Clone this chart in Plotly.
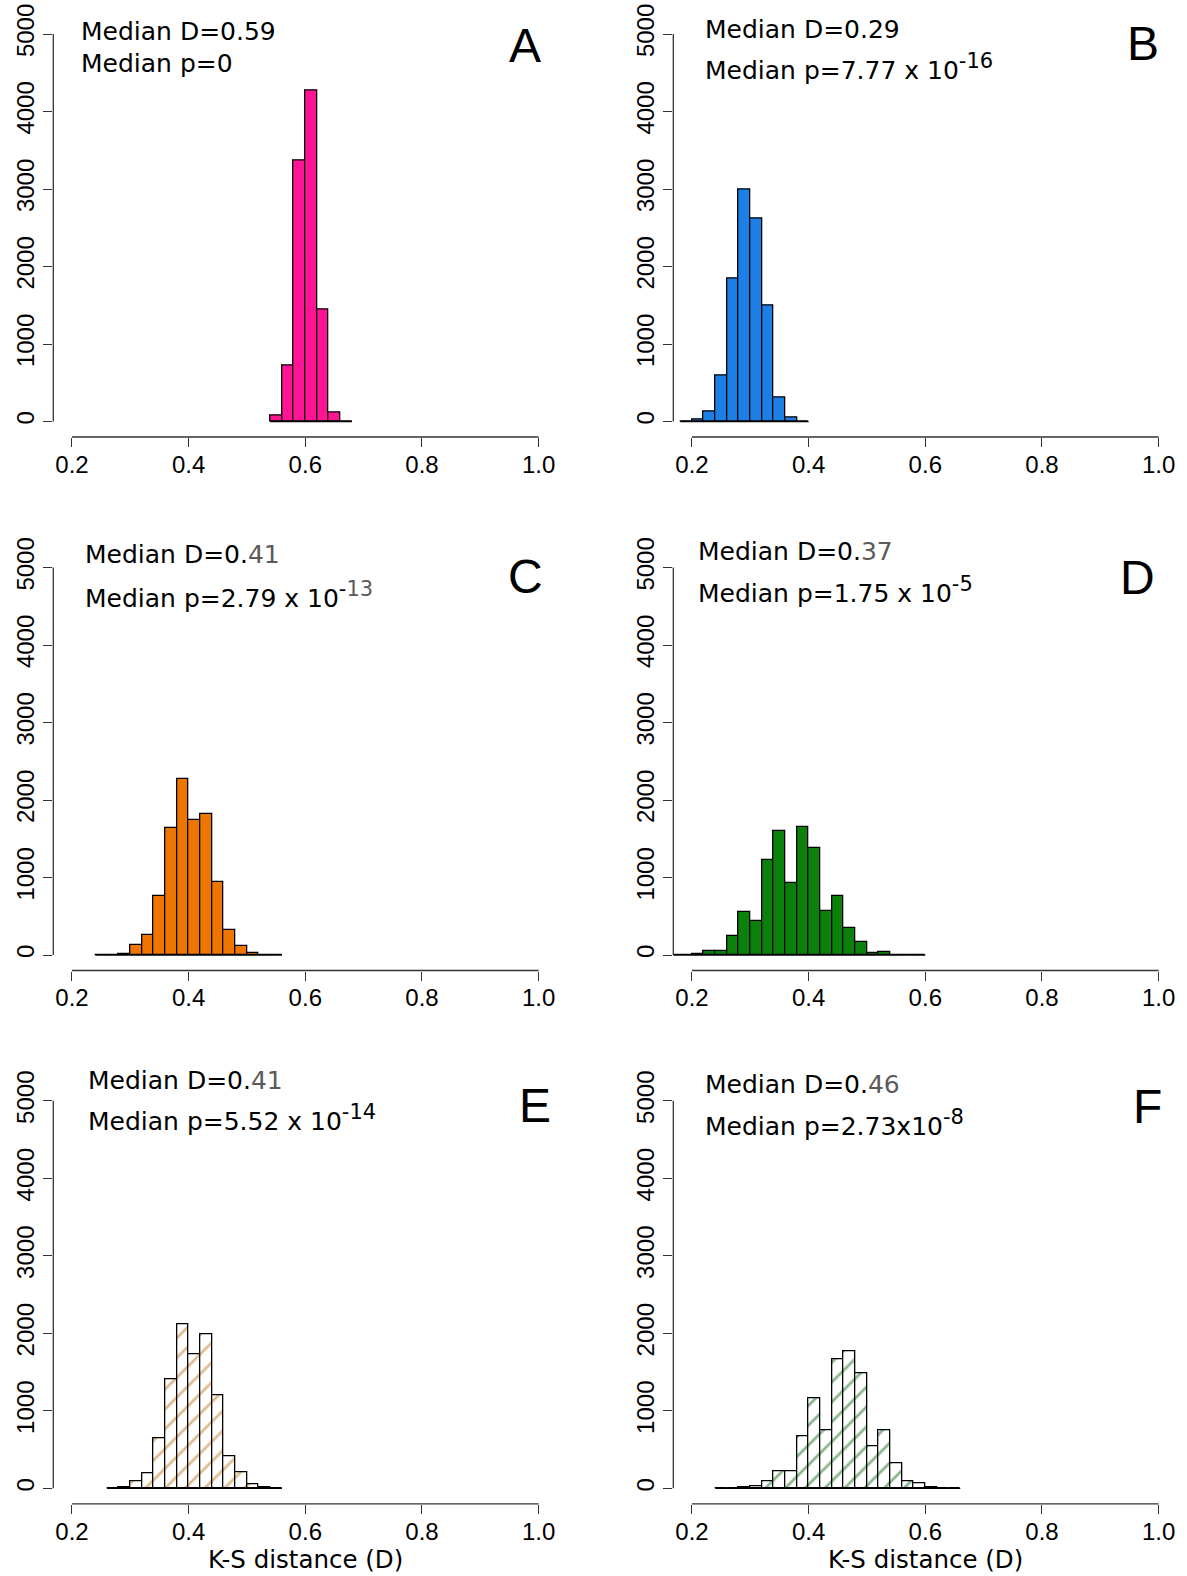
import plotly.graph_objects as go

# ---- histogram data: K-S distance (D) in bins of width 0.02 ----
BIN_W = 0.02

a_start = 0.54
a_counts = [80, 722, 3368, 4270, 1448, 112, 3]

b_start = 0.18
b_counts = [0, 20, 130, 593, 1839, 2995, 2621, 1491, 314, 52, 5]

c_start = 0.24
c_counts = [0, 1, 10, 130, 264, 766, 1636, 2273, 1740, 1814, 939, 325, 117, 30, 3, 1]

d_start = 0.16
d_counts = [0, 2, 17, 52, 52, 243, 552, 439, 1222, 1604, 930, 1652, 1387, 570,
            757, 343, 170, 26, 35, 3, 1, 0]

e_start = 0.26
e_counts = [3, 17, 86, 190, 651, 1401, 2112, 1728, 1987, 1194, 418, 207, 56, 13, 2]

f_start = 0.24
f_counts = [0, 2, 9, 22, 86, 220, 220, 677, 1164, 746, 1668, 1763, 1487, 543,
            750, 323, 86, 65, 13, 3, 1]

panel_letters = ["A", "B", "C", "D", "E", "F"]
median_d = [("0.", "59"), ("0.", "29"), ("0.", "41"), ("0.", "37"), ("0.", "41"), ("0.", "46")]
SUP = "<sup><span style='font-size:21px'>{}</span></sup>"
GRAY = "<span style='color:#5a5a5a'>{}</span>"
median_p = [
    "Median p=0",
    "Median p=7.77 x 10" + SUP.format("-16"),
    "Median p=2.79 x 10" + SUP.format("-" + GRAY.format("13")),
    "Median p=1.75 x 10" + SUP.format("-5"),
    "Median p=5.52 x 10" + SUP.format("-14"),
    "Median p=2.73x10" + SUP.format("-8"),
]
gray_digits = [False, False, True, True, True, True]

x_ticks = [0.2, 0.4, 0.6, 0.8, 1.0]
y_ticks = [0, 1000, 2000, 3000, 4000, 5000]
x_title = "K-S distance (D)"

# ---- styles ----
solid_colors = ["#FF1493", "#1C7FE6", "#EE7600", "#0B800B", None, None]
hatch_colors = [None, None, None, None, "#C27A22", "#16701A"]

W, H = 1187, 1576
cols = [(53.3, 557.3), (673.3, 1177.3)]
rows = [(18.5, 437.0), (552.0, 970.5), (1085.3, 1503.8)]
X_RANGE = [0.168, 1.032]
Y_RANGE = [-200, 5200]

def fx(p):
    return p / W

def fy(p):
    return 1 - p / H

panels = [
    (a_start, a_counts), (b_start, b_counts), (c_start, c_counts),
    (d_start, d_counts), (e_start, e_counts), (f_start, f_counts),
]

fig = go.Figure()
layout = {}
shapes = []
annotations = []

TICK_FONT = dict(family="Liberation Sans, Arial, sans-serif", size=24, color="#000000")
TEXT_FONT = "DejaVu Sans, Verdana, sans-serif"
AXIS_COLOR = "#333333"

# text anchors (pixel positions)
d_line_y = [32, 29.5, 554, 551, 1080, 1084]
p_line_y = [63.5, 67, 594.5, 589.5, 1118, 1123]
text_left = [79.4, 702.5, 83.3, 695.5, 86.4, 702.5]
letter_pos = [(525, 45), (1143, 43), (525, 576), (1137, 577), (535, 1105), (1147, 1106)]

for i, (start, counts) in enumerate(panels):
    r, c = divmod(i, 2)
    n = i + 1
    xa = "x" if n == 1 else f"x{n}"
    ya = "y" if n == 1 else f"y{n}"
    centers = [start + BIN_W * (k + 0.5) for k in range(len(counts))]

    if solid_colors[i]:
        marker = dict(color=solid_colors[i], line=dict(color="#000000", width=1.3))
    else:
        marker = dict(
            color="#FFFFFF",
            line=dict(color="#000000", width=1.3),
            pattern=dict(shape="/", fgcolor=hatch_colors[i], bgcolor="#FFFFFF",
                         size=14, solidity=0.2),
        )
    fig.add_trace(go.Bar(x=centers, y=counts, width=BIN_W, marker=marker,
                         xaxis=xa, yaxis=ya, showlegend=False))
    # baseline over the full binned range, as drawn for empty bins
    edges = [start, start + BIN_W * len(counts)]
    fig.add_trace(go.Scatter(x=edges, y=[0, 0], mode="lines",
                             line=dict(color="#000000", width=1.3),
                             xaxis=xa, yaxis=ya, showlegend=False, hoverinfo="skip"))

    x0, x1 = cols[c]
    top, bot = rows[r]
    key_x = "xaxis" if n == 1 else f"xaxis{n}"
    key_y = "yaxis" if n == 1 else f"yaxis{n}"
    layout[key_x] = dict(
        domain=[fx(x0), fx(x1)], range=X_RANGE, anchor=ya, automargin=False,
        tickvals=x_ticks, ticktext=[f"{v:.1f}" for v in x_ticks],
        ticks="outside", ticklen=9, tickwidth=1.3, tickcolor=AXIS_COLOR,
        ticklabelstandoff=-3,
        showgrid=False, zeroline=False, showline=False, tickfont=TICK_FONT,
    )
    layout[key_y] = dict(
        domain=[fy(bot), fy(top)], range=Y_RANGE, anchor=xa, automargin=False,
        tickvals=y_ticks, ticktext=[str(v) for v in y_ticks], tickangle=-90,
        ticks="outside", ticklen=9, tickwidth=1.3, tickcolor=AXIS_COLOR,
        showgrid=False, zeroline=False, showline=False, tickfont=TICK_FONT,
    )
    # axis lines that run only between the first and last ticks
    shapes.append(dict(type="line", xref=xa, yref=f"{ya} domain",
                       x0=x_ticks[0], x1=x_ticks[-1], y0=0, y1=0,
                       line=dict(color=AXIS_COLOR, width=1.3)))
    shapes.append(dict(type="line", xref=f"{xa} domain", yref=ya,
                       x0=0, x1=0, y0=y_ticks[0], y1=y_ticks[-1],
                       line=dict(color=AXIS_COLOR, width=1.3)))

    # median labels
    head, tail = median_d[i]
    d_text = f"Median D={head}" + (GRAY.format(tail) if gray_digits[i] else tail)
    annotations.append(dict(text=d_text, xref="paper", yref="paper",
                            x=fx(text_left[i]), y=fy(d_line_y[i]),
                            xanchor="left", yanchor="middle", showarrow=False,
                            font=dict(family=TEXT_FONT, size=25, color="#000000")))
    annotations.append(dict(text=median_p[i], xref="paper", yref="paper",
                            x=fx(text_left[i]), y=fy(p_line_y[i]),
                            xanchor="left", yanchor="middle", showarrow=False,
                            font=dict(family=TEXT_FONT, size=25, color="#000000")))
    lx, ly = letter_pos[i]
    annotations.append(dict(text=panel_letters[i], xref="paper", yref="paper",
                            x=fx(lx), y=fy(ly), xanchor="center", yanchor="middle",
                            showarrow=False,
                            font=dict(family="Liberation Sans, Arial, sans-serif",
                                      size=48, color="#000000")))

# x-axis titles under the bottom row
for n in (5, 6):
    annotations.append(dict(text=x_title, xref=f"x{n}", yref="paper",
                            x=0.6, y=fy(1559), xanchor="center", yanchor="middle",
                            showarrow=False,
                            font=dict(family=TEXT_FONT, size=24.5, color="#000000")))

fig.update_layout(
    width=W, height=H, margin=dict(l=0, r=0, t=0, b=0, autoexpand=False),
    paper_bgcolor="#FFFFFF", plot_bgcolor="#FFFFFF",
    bargap=0, shapes=shapes, annotations=annotations, **layout,
)

fig.write_html("out.html")
